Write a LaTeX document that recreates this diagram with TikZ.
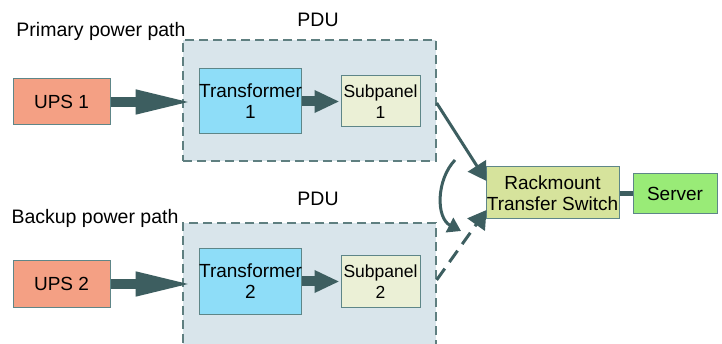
\documentclass[tikz,border=0pt]{standalone}
\usepackage{fontspec}
\setmainfont{Liberation Sans}
\usetikzlibrary{arrows.meta,calc}
\definecolor{arr}{HTML}{3D5E60}
\definecolor{bord}{HTML}{5E8688}
\definecolor{upsc}{HTML}{F4A084}
\definecolor{trc}{HTML}{8EDDF8}
\definecolor{spc}{HTML}{EBF0D6}
\definecolor{rmc}{HTML}{D6E39C}
\definecolor{svc}{HTML}{99EB77}
\definecolor{pduc}{HTML}{D9E5EB}
\definecolor{pdub}{HTML}{5F7F80}
\tikzset{
  box/.style={draw=bord, line width=1pt, inner sep=0pt, align=center,
    font=\fontsize{19pt}{21pt}\selectfont},
  subbox/.style={box, font=\fontsize{17.5pt}{21pt}\selectfont},
  pdubox/.style={draw=pdub, fill=pduc, line width=1.3pt, dash pattern=on 9pt off 5pt, inner sep=0pt},
  lbl/.style={font=\fontsize{19.5pt}{21pt}\selectfont, inner sep=0pt},
  bigarrow/.style={draw=arr, line width=10pt, -{Triangle[length=58pt,width=22pt]}, shorten >=5pt},
  medarrow/.style={draw=arr, line width=10pt, -{Triangle[length=25pt,width=21pt]}, shorten >=1pt},
  thinarrow/.style={draw=arr, line width=3pt, -{Triangle[length=18pt,width=21pt]}},
}
\begin{document}
\begin{tikzpicture}[x=1pt,y=-1pt]
\clip (0,0) rectangle (722,344);
\fill[white] (0,0) rectangle (722,344);
% PDU boxes
\node[pdubox, minimum width=253pt, minimum height=121pt] (pdu1) at (309.5,100.5) {};
\node[pdubox, minimum width=253pt, minimum height=125pt] (pdu2) at (309.5,285.5) {};
% labels
\node[lbl] (pdulbl1) at (318,20) {PDU};
\node[lbl] (pdulbl2) at (318,199) {PDU};
\node[lbl] (prim) at (101,31) {Primary power path};
\node[lbl] (back) at (95,218) {Backup power path};
% boxes
\node[box, fill=upsc, minimum width=97pt, minimum height=46pt] (ups1) at (61.5,102) {UPS 1};
\node[box, fill=trc, minimum width=101pt, minimum height=65pt] (t1) at (250.5,101.5) {Transformer\\1};
\node[subbox, fill=spc, minimum width=79pt, minimum height=51pt] (s1) at (380.5,101.5) {Subpanel\\1};
\node[box, fill=upsc, minimum width=97pt, minimum height=46pt] (ups2) at (61.5,284) {UPS 2};
\node[box, fill=trc, minimum width=101pt, minimum height=65pt] (t2) at (250.5,281.5) {Transformer\\2};
\node[subbox, fill=spc, minimum width=79pt, minimum height=51pt] (s2) at (380.5,281.5) {Subpanel\\2};
\node[box, fill=rmc, minimum width=133pt, minimum height=52pt] (rts) at (552.5,193) {Rackmount\\Transfer Switch};
\node[box, fill=svc, minimum width=84pt, minimum height=40pt] (srv) at (675,194) {Server};
% arrows
\draw[bigarrow] (ups1.east) -- (t1.west |- ups1.east);
\draw[medarrow] (t1.east) -- (s1.west);
\draw[bigarrow] (ups2.east) -- (t2.west |- ups2.east);
\draw[medarrow] (t2.east) -- (s2.west);
\draw[draw=arr, line width=5pt] (rts.east |- srv.west) -- (srv.west);
\coordinate (p1) at ($(pdu1.east |- s1.east)+(0,1.5)$);
\coordinate (p2) at ($(pdu2.east |- s2.east)+(0,-1.5)$);
\coordinate (r1) at ($(rts.west)+(1,-12)$);
\coordinate (r2) at ($(rts.west)+(1,17)$);
\draw[thinarrow] (p1) -- (r1);
\draw[thinarrow, dash pattern=on 14pt off 8pt] (p2) -- (r2);
\coordinate (c1) at (455,160);
\coordinate (c2) at (461,231);
\draw[draw=arr, line width=3pt, -{Triangle[length=13pt,width=16pt]}] (c1) .. controls (436,180) and (436,218) .. (c2);
\end{tikzpicture}
\end{document}
